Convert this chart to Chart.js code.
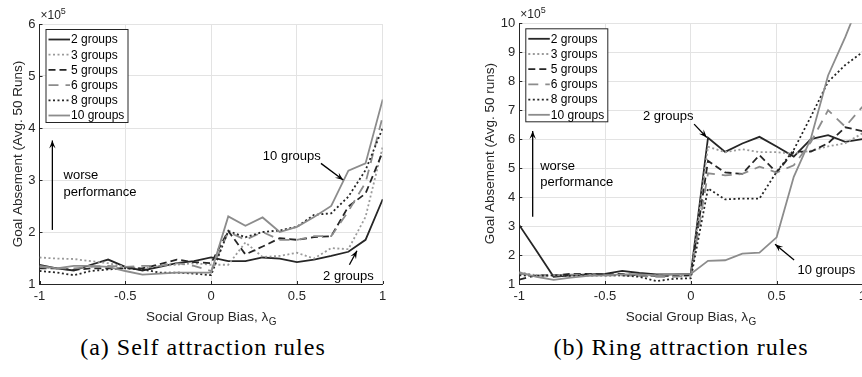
<!DOCTYPE html>
<html>
<head>
<meta charset="utf-8">
<script src="https://cdn.jsdelivr.net/npm/chart.js@4.4.0/dist/chart.umd.min.js"></script>
<style>
html,body{margin:0;padding:0;background:#fff;overflow:hidden;width:862px;height:377px;}
#wrap{position:relative;width:862px;height:377px;overflow:hidden;}
canvas{position:absolute;top:0;}
#left{left:0;}
#right{left:431px;}
.cap{position:absolute;top:334px;font-family:"Liberation Serif",serif;font-size:24px;letter-spacing:1px;color:#000;white-space:nowrap;transform:translateX(-50%);}
</style>
</head>
<body>
<div id="wrap">
<canvas id="left" width="431" height="330"></canvas>
<canvas id="right" width="440" height="330"></canvas>
<div class="cap" style="left:203px">(a) Self attraction rules</div>
<div class="cap" style="left:681px">(b) Ring attraction rules</div>
</div>
<script>
// social group bias values (x)
const bias = [-1,-0.9,-0.8,-0.7,-0.6,-0.5,-0.4,-0.3,-0.2,-0.1,0,0.1,0.2,0.3,0.4,0.5,0.6,0.7,0.8,0.9,1];
const groupLabels = ['2 groups','3 groups','5 groups','6 groups','8 groups','10 groups'];
const xTicks = [-1,-0.5,0,0.5,1];
const xTickLabels = ['-1','-0.5','0','0.5','1'];
const selfYTicks = [1,2,3,4,5,6];
const ringYTicks = [1,2,3,4,5,6,7,8,9,10];

// goal absement, x10^5 - self attraction
const selfTwo   = [1.37,1.30,1.26,1.37,1.47,1.33,1.26,1.33,1.40,1.44,1.51,1.44,1.44,1.51,1.49,1.42,1.47,1.54,1.62,1.85,2.63];
const selfThree = [1.51,1.49,1.48,1.44,1.40,1.33,1.30,1.35,1.37,1.40,1.37,1.37,1.80,1.52,1.54,1.60,1.49,1.69,1.67,2.29,3.64];
const selfFive  = [1.30,1.30,1.27,1.30,1.30,1.30,1.30,1.38,1.47,1.42,1.40,2.02,1.57,1.72,1.88,1.85,1.90,1.92,2.49,2.74,3.54];
const selfSix   = [1.33,1.30,1.30,1.33,1.35,1.33,1.35,1.35,1.40,1.35,1.25,2.00,1.85,2.00,1.85,1.85,1.92,1.92,2.40,2.95,4.22];
const selfEight = [1.25,1.22,1.17,1.25,1.28,1.30,1.28,1.22,1.22,1.20,1.17,2.02,1.90,2.00,2.03,2.10,2.33,2.36,2.68,3.19,4.00];
const selfTen   = [1.35,1.30,1.35,1.35,1.33,1.25,1.18,1.20,1.22,1.22,1.22,2.30,2.12,2.28,2.00,2.10,2.29,2.50,3.18,3.32,4.55];

// goal absement, x10^5 - ring attraction
const ringTwo   = [3.03,2.15,1.25,1.30,1.33,1.35,1.45,1.38,1.33,1.33,1.35,6.05,5.56,5.85,6.08,5.75,5.40,6.00,6.14,5.91,6.00];
const ringThree = [1.40,1.30,1.30,1.30,1.30,1.30,1.30,1.30,1.30,1.30,1.30,5.74,5.55,5.65,5.55,5.55,5.50,5.60,5.75,5.86,6.20];
const ringFive  = [1.15,1.30,1.30,1.35,1.35,1.33,1.35,1.30,1.28,1.28,1.30,5.25,4.85,4.80,5.45,4.85,5.57,5.57,5.86,6.41,6.28];
const ringSix   = [1.35,1.30,1.30,1.32,1.32,1.30,1.30,1.28,1.25,1.25,1.30,4.82,4.75,4.80,5.05,4.85,5.10,5.90,7.00,6.43,7.12];
const ringEight = [1.30,1.28,1.30,1.28,1.30,1.30,1.30,1.25,1.10,1.18,1.20,4.30,3.92,3.95,3.95,4.87,5.63,6.78,7.98,8.56,9.00];
const ringTen   = [1.40,1.25,1.14,1.22,1.28,1.30,1.33,1.33,1.30,1.33,1.35,1.80,1.82,2.05,2.08,2.61,4.70,6.03,8.20,9.52,11.0];

const lineStyles = [
    {color:'#262626', dash:[]},
    {color:'#9a9a9a', dash:[2,2.5]},
    {color:'#262626', dash:[7,4]},
    {color:'#8c8c8c', dash:[10,7]},
    {color:'#262626', dash:[2,2.5]},
    {color:'#8c8c8c', dash:[]}
];

const FONT = '"Liberation Sans", Arial, sans-serif';
const INK = '#262626';

function makeDatasets(series){
    return series.map((vals, i) => ({
        label: groupLabels[i],
        data: bias.map((b, j) => ({x: b, y: vals[j]})),
        borderColor: lineStyles[i].color,
        borderDash: lineStyles[i].dash,
        borderWidth: 1.8,
        pointRadius: 0,
        tension: 0,
        fill: false,
        order: 5 - i
    }));
}

function arrow(ctx, x1, y1, x2, y2){
    ctx.beginPath();
    ctx.moveTo(x1, y1);
    ctx.lineTo(x2, y2);
    ctx.stroke();
    const a = Math.atan2(y2 - y1, x2 - x1);
    const len = 8, w = 3.2;
    ctx.beginPath();
    ctx.moveTo(x2, y2);
    ctx.lineTo(x2 - len*Math.cos(a) + w*Math.sin(a), y2 - len*Math.sin(a) - w*Math.cos(a));
    ctx.lineTo(x2 - 0.6*len*Math.cos(a), y2 - 0.6*len*Math.sin(a));
    ctx.lineTo(x2 - len*Math.cos(a) - w*Math.sin(a), y2 - len*Math.sin(a) + w*Math.cos(a));
    ctx.closePath();
    ctx.fill();
}

// legend box, exponent, x title, inner ticks and notes
const decorations = {
    id: 'decor',
    afterDraw(chart, args, opts){
        const {ctx, chartArea: ca, scales: {x, y}} = chart;
        ctx.save();

        // inner ticks
        ctx.strokeStyle = INK;
        ctx.lineWidth = 1;
        ctx.beginPath();
        y.ticks.forEach(t => {
            const py = Math.round(y.getPixelForValue(t.value)) + 0.5;
            ctx.moveTo(ca.left, py); ctx.lineTo(ca.left + 3, py);
        });
        x.ticks.forEach(t => {
            const px = Math.round(x.getPixelForValue(t.value)) + 0.5;
            ctx.moveTo(px, ca.bottom); ctx.lineTo(px, ca.bottom - 3);
        });
        ctx.stroke();

        // notes and arrows
        ctx.fillStyle = '#000';
        ctx.strokeStyle = '#000';
        ctx.lineWidth = 1.3;
        ctx.font = '13px ' + FONT;
        ctx.textBaseline = 'middle';
        (opts.texts || []).forEach(t => {
            ctx.textAlign = t.align || 'center';
            ctx.fillText(t.text, x.getPixelForValue(t.x), y.getPixelForValue(t.y));
        });
        (opts.arrows || []).forEach(a => {
            arrow(ctx, x.getPixelForValue(a[0]), y.getPixelForValue(a[1]),
                       x.getPixelForValue(a[2]), y.getPixelForValue(a[3]));
        });

        // legend
        const lx = ca.left + 6.5, ly = ca.top + 5.5, lw = 82, lh = 93;
        ctx.fillStyle = '#fff';
        ctx.fillRect(lx, ly, lw, lh);
        ctx.strokeStyle = INK;
        ctx.lineWidth = 1;
        ctx.strokeRect(lx, ly, lw, lh);
        ctx.font = '12px ' + FONT;
        ctx.textAlign = 'left';
        chart.data.datasets.forEach((ds, i) => {
            const ry = ly + 10 + i * 15.2;
            ctx.strokeStyle = ds.borderColor;
            ctx.lineWidth = 1.8;
            ctx.setLineDash(ds.borderDash);
            ctx.beginPath();
            ctx.moveTo(lx + 2.5, ry);
            ctx.lineTo(lx + 24, ry);
            ctx.stroke();
            ctx.setLineDash([]);
            ctx.fillStyle = '#000';
            ctx.fillText(ds.label, lx + 25, ry + 0.5);
        });

        // x10^5 exponent
        ctx.fillStyle = INK;
        ctx.font = '12px ' + FONT;
        ctx.textBaseline = 'alphabetic';
        ctx.fillText('\u00d710', ca.left + 1, ca.top - 5);
        const ew = ctx.measureText('\u00d710').width;
        ctx.font = '9px ' + FONT;
        ctx.fillText('5', ca.left + 1 + ew, ca.top - 10);

        // x axis title with subscript
        ctx.font = '13.5px ' + FONT;
        const main = 'Social Group Bias, \u03bb';
        const mw = ctx.measureText(main).width;
        ctx.font = '10px ' + FONT;
        const sw = ctx.measureText('G').width;
        const sx = (ca.left + ca.right) / 2 - (mw + sw) / 2;
        ctx.font = '13.5px ' + FONT;
        ctx.fillText(main, sx, ca.bottom + 37);
        ctx.font = '10px ' + FONT;
        ctx.fillText('G', sx + mw + 0.5, ca.bottom + 41);

        ctx.restore();
    }
};

function buildChart(canvasId, series, yTicks, yTitle, layout, notes){
    return new Chart(document.getElementById(canvasId), {
        type: 'line',
        data: {datasets: makeDatasets(series)},
        plugins: [decorations],
        options: {
            responsive: false,
            animation: false,
            events: [],
            layout: {padding: {left: 0, right: layout.right, top: layout.top, bottom: 0}},
            plugins: {
                legend: {display: false},
                tooltip: {enabled: false},
                decor: notes
            },
            scales: {
                x: {
                    type: 'linear',
                    min: -1, max: 1,
                    afterBuildTicks: s => { s.ticks = xTicks.map(v => ({value: v})); },
                    afterFit: s => { s.height = 46; },
                    ticks: {
                        callback: (v) => xTickLabels[xTicks.indexOf(v)],
                        color: INK, font: {family: FONT, size: 13}, padding: 5, maxRotation: 0
                    },
                    grid: {color: '#e3e3e3', drawTicks: false},
                    border: {color: INK, width: 1}
                },
                y: {
                    type: 'linear',
                    min: yTicks[0], max: yTicks[yTicks.length - 1],
                    afterBuildTicks: s => { s.ticks = yTicks.map(v => ({value: v})); },
                    afterFit: s => { s.width = layout.yWidth; },
                    ticks: {color: INK, font: {family: FONT, size: 13}, padding: 4},
                    grid: {color: '#e3e3e3', drawTicks: false},
                    border: {color: INK, width: 1},
                    title: {
                        display: true, text: yTitle, color: INK,
                        font: {family: FONT, size: 13.5},
                        padding: {top: layout.titlePad, bottom: 0}
                    }
                }
            }
        }
    });
}

buildChart('left',
    [selfTwo, selfThree, selfFive, selfSix, selfEight, selfTen],
    selfYTicks, 'Goal Absement (Avg. 50 Runs)',
    {right: 48.3, top: 24, yWidth: 39.5, titlePad: 10},
    {
        texts: [
            {text: 'worse', x: -0.86, y: 3.08, align: 'left'},
            {text: 'performance', x: -0.86, y: 2.76, align: 'left'},
            {text: '10 groups', x: 0.47, y: 3.46},
            {text: '2 groups', x: 0.80, y: 1.15}
        ],
        arrows: [
            [-0.925, 2.04, -0.925, 3.76],
            [0.64, 3.32, 0.77, 3.0],
            [0.806, 1.37, 0.85, 1.64]
        ]
    });

buildChart('right',
    [ringTwo, ringThree, ringFive, ringSix, ringEight, ringTen],
    ringYTicks, 'Goal Absement (Avg. 50 runs)',
    {right: 8.3, top: 23.3, yWidth: 88.3, titlePad: 51},
    {
        texts: [
            {text: 'worse', x: -0.878, y: 5.07, align: 'left'},
            {text: 'performance', x: -0.878, y: 4.50, align: 'left'},
            {text: '2 groups', x: -0.132, y: 6.78},
            {text: '10 groups', x: 0.79, y: 1.48}
        ],
        arrows: [
            [-0.922, 3.32, -0.922, 6.28],
            [0.019, 6.52, 0.093, 6.06],
            [0.602, 1.83, 0.491, 2.37]
        ]
    });
</script>
</body>
</html>
